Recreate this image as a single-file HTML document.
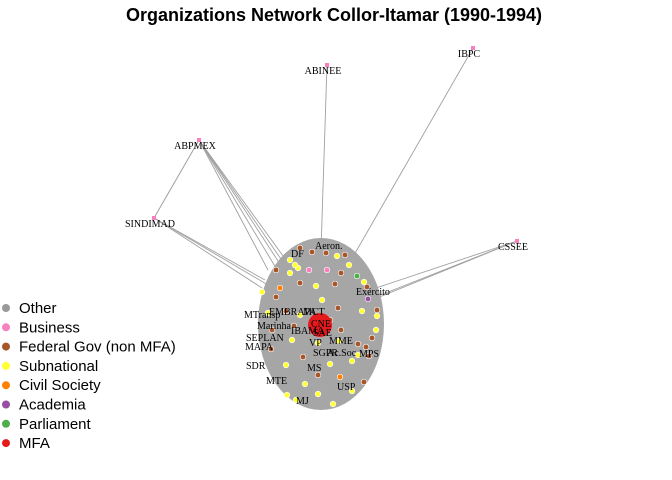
<!DOCTYPE html>
<html><head><meta charset="utf-8"><style>
body{margin:0;background:#fff}
svg{display:block}
text{font-family:"Liberation Serif",serif;font-size:10px;fill:#000}
.leg{font-family:"Liberation Sans",sans-serif;font-size:15px}
</style></head><body>
<svg id="c" width="672" height="480">
<text x="334" y="21" text-anchor="middle" style="font-family:'Liberation Sans',sans-serif;font-size:18px;font-weight:bold">Organizations Network Collor-Itamar (1990-1994)</text>
<g id="edges"></g>
<ellipse cx="321" cy="324" rx="63" ry="86" fill="#a6a6a6"/>
<g id="nodes"></g>
<circle cx="320" cy="325" r="12" fill="#e41a1c"/>
<g id="labels"></g>
<g id="legend"></g>
</svg>
<script>
const colors={Other:"#999999",Business:"#f781bf",Federal:"#a65628",Subnational:"#ffff33",Civil:"#ff7f00",Academia:"#984ea3",Parliament:"#4daf4a",MFA:"#e41a1c"};
const legendNames=["Other","Business","Federal Gov (non MFA)","Subnational","Civil Society","Academia","Parliament","MFA"];
const legendKeys=["Other","Business","Federal","Subnational","Civil","Academia","Parliament","MFA"];
// peripheral nodes: name, x, y, type
const outerNames=["ABINEE","IBPC","ABPMEX","SINDIMAD","CSSEE"];
const outerX=[327,473,199,154,517];
const outerY=[65,48,140,218,241];
// edges from outer node index to cluster point
const edgeFrom=[0,1,2,2,2,2,2,3,3,3,4,4,4];
const edgeToX=[321,350,276,280,283,286,268,265,268,262,376,378,372];
const edgeToY=[250,262,268,264,262,260,270,280,285,288,288,296,300];
// inner dots
const dotX=[312,326,337,290,298,349,276,290,309,327,341,357,364,367,280,300,316,335,276,262,368,377,268,286,300,338,362,377,376,272,294,315,341,372,366,358,271,292,318,339,358,369,286,303,330,352,364,340,305,287,296,318,333,352,318,295,300,345,322,330];
const dotY=[252,253,256,260,268,265,270,273,270,270,273,276,282,287,288,283,286,284,297,292,299,310,313,311,315,308,311,316,330,330,326,326,330,338,347,355,349,340,343,341,344,356,365,357,364,361,382,377,384,395,400,394,404,391,375,265,248,255,300,320];
const dotT=["Federal","Federal","Subnational","Subnational","Subnational","Subnational","Federal","Subnational","Business","Business","Federal","Parliament","Subnational","Federal","Civil","Federal","Subnational","Federal","Federal","Subnational","Academia","Federal","Subnational","Federal","Subnational","Federal","Subnational","Subnational","Subnational","Federal","Federal","Federal","Federal","Federal","Federal","Subnational","Federal","Subnational","Subnational","Subnational","Federal","Federal","Subnational","Federal","Subnational","Subnational","Federal","Civil","Subnational","Subnational","Subnational","Subnational","Subnational","Subnational","Federal","Subnational","Federal","Federal","Subnational","Federal"];
const labelNames=["Aeron.","DF","Exército","MTransp","EMBRAPA","MCT","SEPLAN","Marinha","MAPA","IBAMA","VP","MME","SGPR","Ac.Soc","MPS","SDR","MS","MTE","USP","MJ","CNE","SAE"];
const labelX=[315,291,356,244,269,303,246,257,245,291,309,329,313,327,359,246,307,266,337,296,311,313];
const labelY=[249,257,295,318,315,315,341,329,350,334,346,344,356,356,357,369,371,384,390,404,327,336];
const ns="http://www.w3.org/2000/svg";
const eg=document.getElementById('edges'),ng=document.getElementById('nodes'),lg=document.getElementById('labels'),leg=document.getElementById('legend');
edgeFrom.forEach((f,i)=>{const l=document.createElementNS(ns,'line');
l.setAttribute('x1',outerX[f]);l.setAttribute('y1',outerY[f]);l.setAttribute('x2',edgeToX[i]);l.setAttribute('y2',edgeToY[i]);
l.setAttribute('stroke','#a0a0a0');l.setAttribute('stroke-width','0.9');


eg.appendChild(l);});
const sl=document.createElementNS(ns,'line');sl.setAttribute('x1',outerX[2]);sl.setAttribute('y1',outerY[2]);sl.setAttribute('x2',outerX[3]);sl.setAttribute('y2',outerY[3]);sl.setAttribute('stroke','#a0a0a0');


eg.appendChild(sl);
outerNames.forEach((n,i)=>{const r=document.createElementNS(ns,'rect');
r.setAttribute('x',outerX[i]-2);r.setAttribute('y',outerY[i]-2);r.setAttribute('width',4);r.setAttribute('height',4);r.setAttribute('fill',colors.Business);


ng.appendChild(r);
const t=document.createElementNS(ns,'text');t.setAttribute('x',outerX[i]-4);t.setAttribute('y',outerY[i]+9);t.setAttribute('text-anchor','middle');t.textContent=n;


lg.appendChild(t);});
dotX.forEach((x,i)=>{const c=document.createElementNS(ns,'circle');
c.setAttribute('cx',x);c.setAttribute('cy',dotY[i]);c.setAttribute('r',2.8);c.setAttribute('fill',colors[dotT[i]]);c.setAttribute('stroke','#fff');c.setAttribute('stroke-width','0.6');


ng.appendChild(c);});
labelNames.forEach((n,i)=>{const t=document.createElementNS(ns,'text');t.setAttribute('x',labelX[i]);t.setAttribute('y',labelY[i]);t.textContent=n;


lg.appendChild(t);});
legendNames.forEach((n,i)=>{const y=308+i*19.3;
const c=document.createElementNS(ns,'circle');c.setAttribute('cx',6);c.setAttribute('cy',y);c.setAttribute('r',4);c.setAttribute('fill',colors[legendKeys[i]]);


leg.appendChild(c);
const t=document.createElementNS(ns,'text');t.setAttribute('x',19);t.setAttribute('y',y+5);t.setAttribute('class','leg');t.textContent=n;


leg.appendChild(t);});
</script>
</body></html>
